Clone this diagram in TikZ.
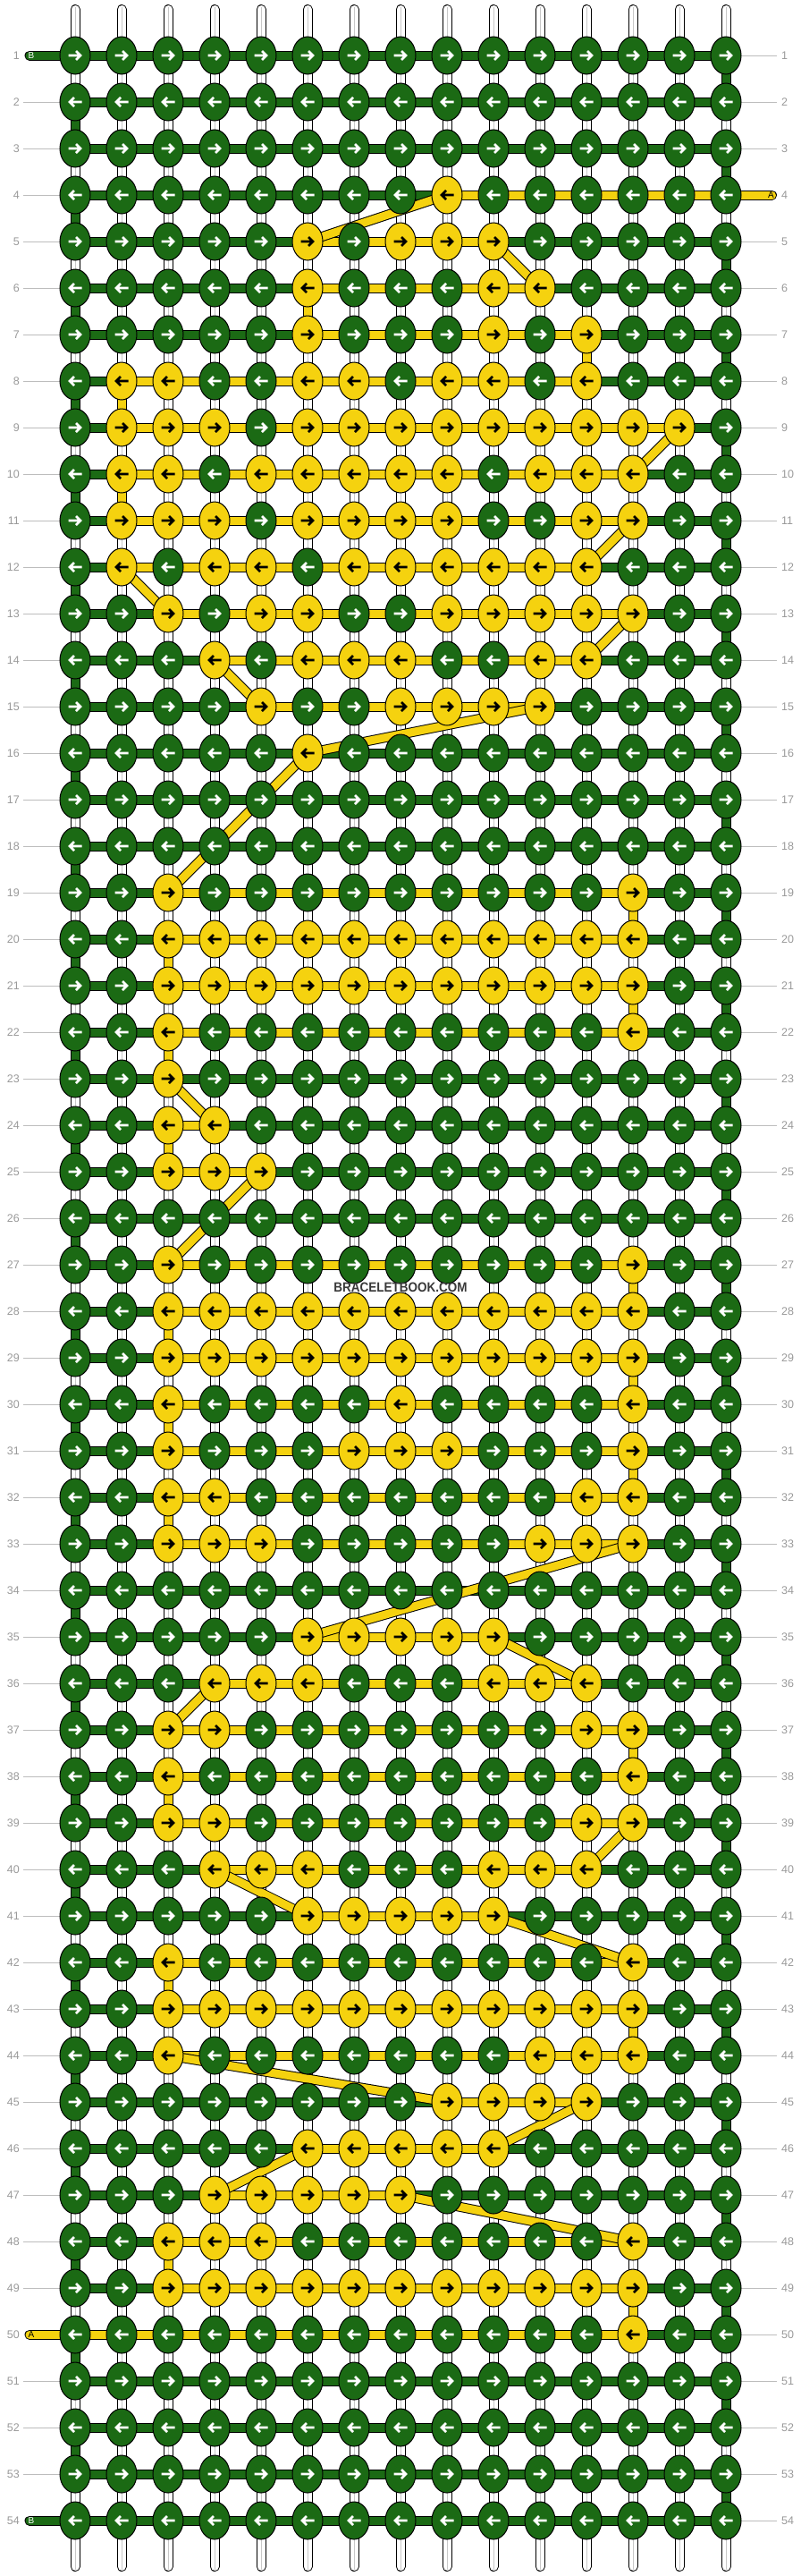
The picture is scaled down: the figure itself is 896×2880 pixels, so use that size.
\documentclass[tikz,border=0pt]{standalone}
\usepackage{fontspec}
\setmainfont{Liberation Sans}
\usetikzlibrary{shapes.geometric}
\definecolor{kg}{HTML}{1B6A14}
\definecolor{ky}{HTML}{F5D20F}
\definecolor{lblc}{HTML}{9A9A9A}
\definecolor{guidec}{HTML}{BDBDBD}
\definecolor{stripc}{HTML}{C8C8C8}
\definecolor{wmc}{HTML}{383838}
\def\yellowknots{4/{9},5/{6,8,9,10},6/{6,10,11},7/{6,10,12},8/{2,3,6,7,9,10,12},9/{2,3,4,6,7,8,9,10,11,12,13,14},10/{2,3,5,6,7,8,9,11,12,13},11/{2,3,4,6,7,8,9,12,13},12/{2,4,5,7,8,9,10,11,12},13/{3,5,6,9,10,11,12,13},14/{4,6,7,8,11,12},15/{5,8,9,10,11},16/{6},19/{3,13},20/{3,...,13},21/{3,...,13},22/{3,13},23/{3},24/{3,4},25/{3,4,5},27/{3,13},28/{3,...,13},29/{3,...,13},30/{3,8,13},31/{3,7,8,9,13},32/{3,4,12,13},33/{3,4,5,11,12,13},35/{6,...,10},36/{4,5,6,10,11,12},37/{3,4,12,13},38/{3,13},39/{3,4,12,13},40/{4,5,6,10,11,12},41/{6,...,10},42/{3,13},43/{3,...,13},44/{3,11,12,13},45/{9,10,11,12},46/{6,...,10},47/{4,...,8},48/{3,4,5,13},49/{3,...,13},50/{13}}
\def\ybars{4/9/15,5/6/10,6/6/11,7/6/12,8/2/12,9/2/14,10/2/13,11/2/13,12/2/12,13/3/13,14/4/12,15/5/11,19/3/13,20/3/13,21/3/13,22/3/13,24/3/4,25/3/5,27/3/13,28/3/13,29/3/13,30/3/13,31/3/13,32/3/13,33/3/13,35/6/10,36/4/12,37/3/13,38/3/13,39/3/13,40/4/12,41/6/10,42/3/13,43/3/13,44/3/13,45/9/12,46/6/10,47/4/8,48/3/13,49/3/13,50/1/13}
\def\yvert{6/6,12/7,2/8,2/10,13/19,3/20,13/21,3/22,3/24,13/27,3/28,13/29,3/30,13/31,3/32,13/37,3/38,3/42,13/43,3/48,13/49}
\def\ydiag{4/9/5/6,5/10/6/11,9/14/10/13,11/13/12/12,12/2/13/3,13/13/14/12,14/4/15/5,15/11/16/6,16/6/19/3,23/3/24/4,25/5/27/3,33/13/35/6,35/10/36/12,36/4/37/3,39/13/40/12,40/4/41/6,41/10/42/13,44/3/45/9,45/12/46/10,46/6/47/4,47/8/48/13}
\begin{document}
\begin{tikzpicture}[x=1pt,y=-1pt,
  strand/.style={draw=black, line width=1pt, double distance=9pt},
  gstrand/.style={strand, double=kg},
  ystrand/.style={strand, double=ky},
  wstrand/.style={strand, double=white, line cap=round},
  knotbase/.style={ellipse, draw=black, line width=1pt, minimum width=34pt, minimum height=42pt, inner sep=0pt},
  gknot/.style={knotbase, fill=kg},
  yknot/.style={knotbase, fill=ky},
  arr/.style={line width=2.6pt, line join=miter},
  rowlbl/.style={text=lblc, font=\fontsize{12.5}{12.5}\selectfont, inner sep=0pt},
  guide/.style={draw=guidec, line width=1pt},
  stublbl/.style={font=\fontsize{10}{10}\selectfont, inner sep=0pt},
  wmark/.style={inner sep=0.6pt, font=\bfseries\fontsize{15}{15}\selectfont}
]
\useasboundingbox (0,0) rectangle (896,2880);
\fill[white] (0,0) rectangle (896,2880);
% yellow knot lookup
\foreach \r/\cs in \yellowknots {
  \foreach \c in \cs { \expandafter\gdef\csname Y-\r-\c\endcsname{1} }
}
% grid coordinates
\foreach \r in {1,...,54}{
  \foreach \c in {1,...,15}{
    \coordinate (p-\r-\c) at ({84+52*(\c-1)},{62+52*(\r-1)});
  }
}
% vertical white strings
\foreach \c in {1,...,15}{
  \coordinate (t-\c) at ({84+52*(\c-1)},10.5);
  \coordinate (b-\c) at ({84+52*(\c-1)},2869.5);
  \draw[wstrand] (t-\c) -- (b-\c);
  \draw[draw=stripc, line width=1.2pt, shorten <=-3pt, shorten >=-3pt] ([xshift=0.5pt]t-\c) -- ([xshift=0.5pt]b-\c);
}
% row guides and labels
\foreach \r in {1,...,54}{
  \coordinate (gl-\r) at (26,{62+52*(\r-1)});
  \coordinate (gr-\r) at (869,{62+52*(\r-1)});
  \node[rowlbl, anchor=east] (ll-\r) at (22,{62+52*(\r-1)}) {\r};
  \node[rowlbl, anchor=west] (rl-\r) at (874,{62+52*(\r-1)}) {\r};
  \ifnum\r=1 \else\ifnum\r=50 \else\ifnum\r=54 \else
    \draw[guide] (gl-\r) -- (p-\r-1);
  \fi\fi\fi
  \ifnum\r=4 \else
    \draw[guide] (p-\r-15) -- (gr-\r);
  \fi
}
% green turn connectors at row ends
\foreach \r in {1,...,53}{
  \pgfmathtruncatemacro\rn{\r+1}
  \ifodd\r \def\ec{15}\else\def\ec{1}\fi
  \draw[gstrand] (p-\r-\ec) -- (p-\rn-\ec);
}
% yellow vertical connectors
\foreach \c/\r in \yvert {
  \pgfmathtruncatemacro\rn{\r+1}
  \draw[ystrand] (p-\r-\c) -- (p-\rn-\c);
}
% horizontal bars
\foreach \r in {1,...,54}{
  \draw[gstrand] (p-\r-1) -- (p-\r-15);
}
\foreach \r/\a/\b in \ybars {
  \draw[ystrand] (p-\r-\a) -- (p-\r-\b);
}
% end stubs
\coordinate (sB1) at (33,62);
\coordinate (sB54) at (33,2818);
\coordinate (sA50) at (33,2610);
\coordinate (sA4) at (863.5,218);
\draw[gstrand, line cap=round] (sB1) -- (p-1-1);
\draw[gstrand, line cap=round] (sB54) -- (p-54-1);
\draw[ystrand, line cap=round] (sA50) -- (p-50-1);
\draw[ystrand, line cap=round] (p-4-15) -- (sA4);
\node[stublbl, text=white] (lB1) at (35,62) {B};
\node[stublbl, text=white] (lB54) at (35,2818) {B};
\node[stublbl, text=black] (lA50) at (35,2610) {A};
\node[stublbl, text=black] (lA4) at (862.5,218) {A};
% diagonal carries of the yellow string
\foreach \ra/\ca/\rb/\cb in \ydiag {
  \draw[ystrand] (p-\ra-\ca) -- (p-\rb-\cb);
}
% watermark background
\node[wmark, fill=white, text=white] (wm0) at (448,1439) {\scalebox{0.9}[1]{BRACELETBOOK.COM}};
% knots
\foreach \r in {1,...,54}{
  \ifodd\r \def\dir{1}\else\def\dir{-1}\fi
  \foreach \c in {1,...,15}{
    \ifcsname Y-\r-\c\endcsname
      \node[yknot] (k-\r-\c) at (p-\r-\c) {};
      \def\ac{black}
    \else
      \node[gknot] (k-\r-\c) at (p-\r-\c) {};
      \def\ac{white}
    \fi
    \draw[arr, draw=\ac, shift={(p-\r-\c)}, xscale=\dir] (-7.5,0) -- (5.5,0) (1,-5) -- (6,0) -- (1,5);
  }
}
% watermark text
\node[wmark, text=wmc] (wm) at (448,1439) {\scalebox{0.9}[1]{BRACELETBOOK.COM}};
\end{tikzpicture}
\end{document}
